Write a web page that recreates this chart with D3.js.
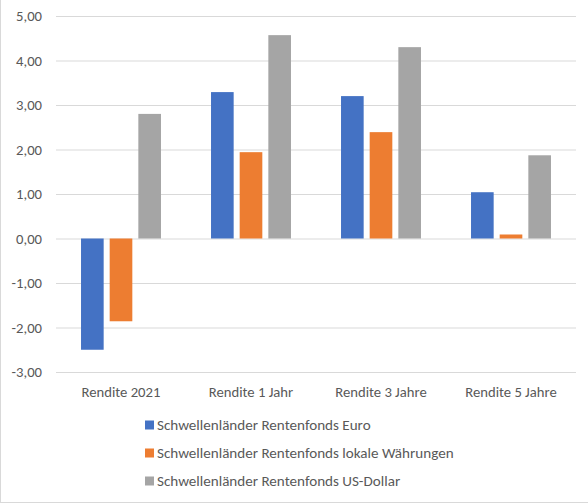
<!DOCTYPE html>
<html>
<head>
<meta charset="utf-8">
<script src="https://cdn.jsdelivr.net/npm/d3@7"></script>
<style>
  body { margin: 0; background: #fff; }
  text { font-family: Calibri, Carlito, "Liberation Sans", sans-serif; fill: #595959; }
</style>
</head>
<body>
<svg id="chart"></svg>
<script>
// categories and series
const categories = ['Rendite 2021', 'Rendite 1 Jahr', 'Rendite 3 Jahre', 'Rendite 5 Jahre'];
const seriesNames = [
    'Schwellenländer Rentenfonds Euro',
    'Schwellenländer Rentenfonds lokale Währungen',
    'Schwellenländer Rentenfonds US-Dollar'
];
const euroValues = [-2.50, 3.29, 3.20, 1.04];
const lokalValues = [-1.86, 1.94, 2.39, 0.09];
const usdValues = [2.80, 4.57, 4.30, 1.87];
const yTicks = [-3, -2, -1, 0, 1, 2, 3, 4, 5];
const colors = ['#4472C4', '#ED7D31', '#A5A5A5'];

let graphicopt = {
    width: 588,
    height: 504,
    fontSize: '14.67px',
    legendFontSize: '15.1px',
    plot: {left: 56, right: 576, top: 16, bottom: 372},
};

const allSeries = [euroValues, lokalValues, usdValues];
const data = categories.map((c, i) => ({
    key: c,
    values: seriesNames.map((s, j) => ({series: s, value: allSeries[j][i], color: colors[j]}))
}));

let svg = d3.select('#chart')
    .attr('width', graphicopt.width)
    .attr('height', graphicopt.height);

// outer frame (left and bottom visible)
svg.append('line').attr('x1', 0.5).attr('x2', 0.5).attr('y1', 0).attr('y2', 503)
    .attr('stroke', '#d9d9d9');
svg.append('line').attr('x1', 0).attr('x2', 588).attr('y1', 502.5).attr('y2', 502.5)
    .attr('stroke', '#d9d9d9');

const x0 = d3.scaleBand()
    .domain(categories)
    .range([graphicopt.plot.left, graphicopt.plot.right])
    .paddingInner(0.385)
    .paddingOuter(0.1925);
const x1 = d3.scaleBand()
    .domain(seriesNames)
    .range([0, x0.bandwidth()])
    .paddingInner(0.21);
const y = d3.scaleLinear()
    .domain([-3, 5])
    .range([graphicopt.plot.bottom, graphicopt.plot.top]);

// gridlines + y labels
const yAxis = d3.axisLeft(y).tickValues(yTicks)
    .tickSize(-(graphicopt.plot.right - graphicopt.plot.left))
    .tickPadding(14)
    .tickFormat(d => d3.format('.2f')(d).replace('.', ',').replace('−', '-'));
let gy = svg.append('g')
    .attr('class', 'y axis')
    .attr('transform', `translate(${graphicopt.plot.left},0)`)
    .call(yAxis);
gy.select('.domain').remove();
gy.selectAll('line').attr('stroke', '#d9d9d9').attr('stroke-width', 1);
gy.selectAll('text').style('font-size', graphicopt.fontSize).attr('fill', '#595959');

// bars
let bar_g = svg.append('g').selectAll('.bar')
    .data(data)
    .enter().append('g')
    .attr('class', 'bar')
    .attr('transform', d => `translate(${x0(d.key)},0)`);
bar_g.selectAll('rect')
    .data(d => d.values)
    .enter().append('rect')
    .attr('x', d => x1(d.series))
    .attr('width', x1.bandwidth())
    .attr('y', d => y(Math.max(0, d.value)))
    .attr('height', d => Math.abs(y(d.value) - y(0)))
    .attr('fill', d => d.color);

// category labels
svg.append('g').selectAll('.cat')
    .data(categories)
    .enter().append('text')
    .attr('class', 'cat')
    .attr('x', d => x0(d) + x0.bandwidth() / 2)
    .attr('y', 392)
    .attr('dy', '0.35em')
    .attr('text-anchor', 'middle')
    .style('font-size', graphicopt.fontSize)
    .text(d => d);

// legend
let legend = svg.append('g').selectAll('.legend')
    .data(seriesNames)
    .enter().append('g')
    .attr('class', 'legend')
    .attr('transform', (d, i) => `translate(145,${425 + i * 28})`);
legend.append('rect')
    .attr('x', 0).attr('y', -4.5)
    .attr('width', 9).attr('height', 9)
    .attr('fill', (d, i) => colors[i]);
legend.append('text')
    .attr('x', 12)
    .attr('y', 0)
    .attr('dy', '0.35em')
    .style('font-size', graphicopt.legendFontSize)
    .text(d => d);
</script>
</body>
</html>
